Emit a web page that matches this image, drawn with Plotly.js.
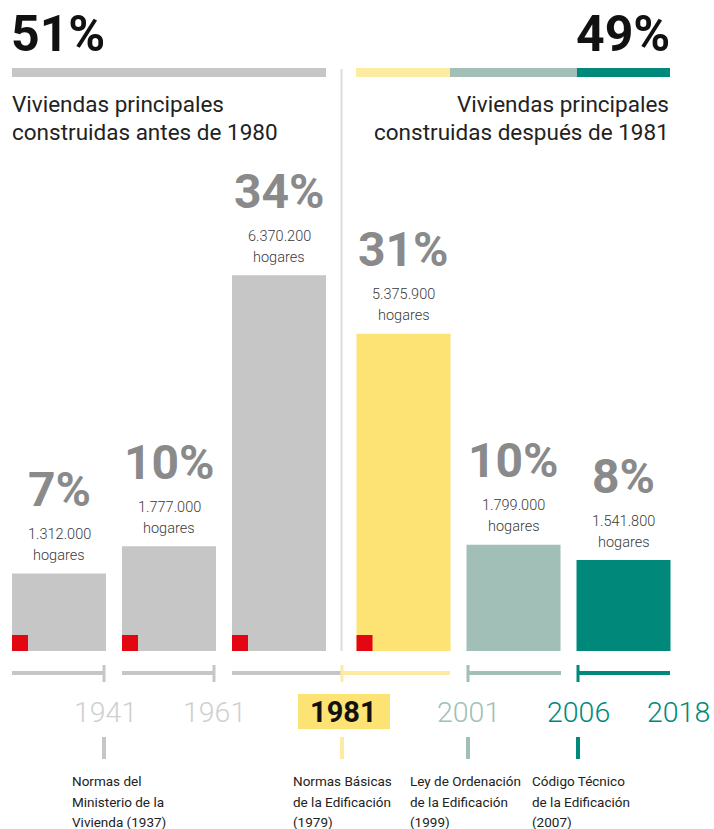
<!DOCTYPE html>
<html>
<head>
<meta charset="utf-8">
<script src="https://cdn.plot.ly/plotly-3.0.1.min.js"></script>
<style>html,body{margin:0;padding:0;background:#fff;}#chart{width:714px;height:829px;}</style>
</head>
<body>
<div id="chart"></div>
<script>
// ---------- DATA ----------
const periods = ['Antes de 1941', '1941-1961', '1961-1981', '1981-2001', '2001-2006', '2006-2018'];
const pctLabels = ['7%', '10%', '34%', '31%', '10%', '8%'];
const households = [1312000, 1777000, 6370200, 5375900, 1799000, 1541800];
const redFlag = [true, true, true, true, false, false];
const yearTicks = ['1941', '1961', '1981', '2001', '2006', '2018'];
const shareLabels = ['51%', '49%'];
const shareTexts = [['Viviendas principales', 'construidas antes de 1980'],
                    ['Viviendas principales', 'construidas después de 1981']];
const normas = [
  ['Normas del', 'Ministerio de la', 'Vivienda (1937)'],
  ['Normas Básicas', 'de la Edificación', '(1979)'],
  ['Ley de Ordenación', 'de la Edificación', '(1999)'],
  ['Código Técnico', 'de la Edificación', '(2007)']
];

// ---------- STYLE ----------
const W = 714, H = 829;
const GREY = '#c6c6c6', YEL = '#fce374', YEL_L = '#fdeba2', SAGE = '#a1bfb6', TEAL = '#00897a', RED = '#e30613';
const barColors = [GREY, GREY, GREY, YEL, SAGE, TEAL];
const FONT = 'Roboto, "Open Sans", sans-serif';
const px = x => x / W;
const py = y => 1 - y / H;
const unit = 110;           // px per bar slot
const x0px = 59;            // centre of first slot in px
const groupGap = 0.132;     // extra gap between the two groups (slots)
const barW = 94 / unit;
const baseY = 651;          // px of bar baseline
const pxPerM = 59;          // px per million households
const xpos = periods.map((p, i) => i + (i >= 3 ? groupGap : 0));
const fmt = n => String(n).replace(/\B(?=(\d{3})+(?!\d))/g, '.');

const trace = {
  type: 'bar', x: xpos, y: households, width: barW,
  marker: {color: barColors, line: {width: 0}},
  hoverinfo: 'skip', text: periods, textposition: 'none'
};

const ann = [];
const shapes = [];
function txt(t, x, y, size, color, xa, opts) {
  ann.push(Object.assign({text: t, x: x, y: y, xref: 'paper', yref: 'paper', xanchor: xa || 'center', yanchor: 'middle',
    showarrow: false, borderpad: 0, borderwidth: 0,
    font: {family: FONT, size: size, color: color}}, opts || {}));
}
function line(xa, ya, xb, yb, color, w) {
  shapes.push({type: 'line', xref: 'paper', yref: 'paper', x0: px(xa), y0: py(ya), x1: px(xb), y1: py(yb),
    line: {color: color, width: w}});
}
function rect(xa, ya, xb, yb, color) {
  shapes.push({type: 'rect', xref: 'paper', yref: 'paper', x0: px(xa), y0: py(ya), x1: px(xb), y1: py(yb),
    fillcolor: color, line: {width: 0}, layer: 'below'});
}

// header
txt(shareLabels[0], px(11), py(34), 50, '#111', 'left', {font: {family: FONT, size: 50, color: '#111', weight: 700}});
txt(shareLabels[1], px(670), py(34), 50, '#111', 'right', {font: {family: FONT, size: 50, color: '#111', weight: 700}});
rect(12, 68, 326, 77, GREY);
rect(356, 68, 450, 77, YEL_L);
rect(450, 68, 577, 77, SAGE);
rect(577, 68, 670, 77, TEAL);
shareTexts[0].forEach((t, i) => txt(t, px(12), py(104 + 28 * i), 22.5, '#222', 'left'));
shareTexts[1].forEach((t, i) => txt(t, px(669), py(104 + 28 * i), 22.5, '#222', 'right'));
// divider
line(341.5, 69, 341.5, 651, '#dcdcdc', 2);

// bar labels (data-anchored)
households.forEach((v, i) => {
  const base = {x: xpos[i], y: v, xref: 'x', yref: 'y', xanchor: 'center', yanchor: 'middle', showarrow: false, borderpad: 0, borderwidth: 0};
  ann.push(Object.assign({}, base, {text: pctLabels[i], yshift: 84, font: {family: FONT, size: 48, color: '#8a8a8a', weight: 700}}));
  ann.push(Object.assign({}, base, {text: fmt(v), yshift: 39, font: {family: FONT, size: 14.5, color: '#3a3a3a', weight: 300}}));
  ann.push(Object.assign({}, base, {text: 'hogares', yshift: 18, font: {family: FONT, size: 14.5, color: '#3a3a3a', weight: 300}}));
  if (redFlag[i]) {
    shapes.push({type: 'rect', xref: 'x', yref: 'paper', x0: xpos[i] - barW / 2, x1: xpos[i] - barW / 2 + 16 / unit,
      y0: py(baseY), y1: py(baseY - 16), fillcolor: RED, line: {width: 0}});
  }
});

// timeline
const tl = 673;
line(12, tl, 104, tl, GREY, 4);  line(104, 665, 104, 682, GREY, 3);
line(122, tl, 214, tl, GREY, 4); line(214, 665, 214, 682, GREY, 3);
line(232, tl, 342, tl, GREY, 4);
line(342, tl, 450, tl, YEL_L, 4); line(342, 665, 342, 682, YEL_L, 3);
line(468, tl, 561, tl, SAGE, 4); line(468, 665, 468, 682, SAGE, 3);
line(578, tl, 670, tl, TEAL, 4); line(578, 665, 578, 682, TEAL, 3);

// years
rect(298, 694, 390, 729, YEL);
const yearX = [105, 214, 343, 468, 578, 678];
const yearCol = ['#cfcfcf', '#cfcfcf', '#111', SAGE, TEAL, TEAL];
yearTicks.forEach((y, i) => {
  const bold = i === 2;
  ann.push({text: y, x: px(yearX[i]), y: py(712), xref: 'paper', yref: 'paper', xanchor: 'center', yanchor: 'middle',
    showarrow: false, borderpad: 0, borderwidth: 0,
    font: {family: FONT, size: bold ? 29 : 28.5, color: yearCol[i], weight: bold ? 700 : 300}});
});

// lower ticks + normas
const tickX = [104, 342, 468, 578];
const tickCol = [GREY, YEL_L, SAGE, TEAL];
tickX.forEach((x, i) => line(x, 737, x, 759, tickCol[i], 4));
const normX = [72, 293, 410, 532];
normas.forEach((lines, i) => lines.forEach((t, j) => txt(t, px(normX[i]), py(781 + 20.5 * j), 13.5, '#222', 'left')));

const layout = {
  width: W, height: H, margin: {l: 0, r: 0, t: 0, b: 0},
  paper_bgcolor: '#fff', plot_bgcolor: 'rgba(0,0,0,0)', showlegend: false,
  xaxis: {range: [-x0px / unit, (W - x0px) / unit], visible: false, fixedrange: true},
  yaxis: {domain: [(H - baseY) / H, 1], range: [0, baseY / pxPerM * 1e6], visible: false, fixedrange: true},
  shapes: shapes, annotations: ann
};
Plotly.newPlot('chart', [trace], layout, {displayModeBar: false, staticPlot: true});
</script>
</body>
</html>
